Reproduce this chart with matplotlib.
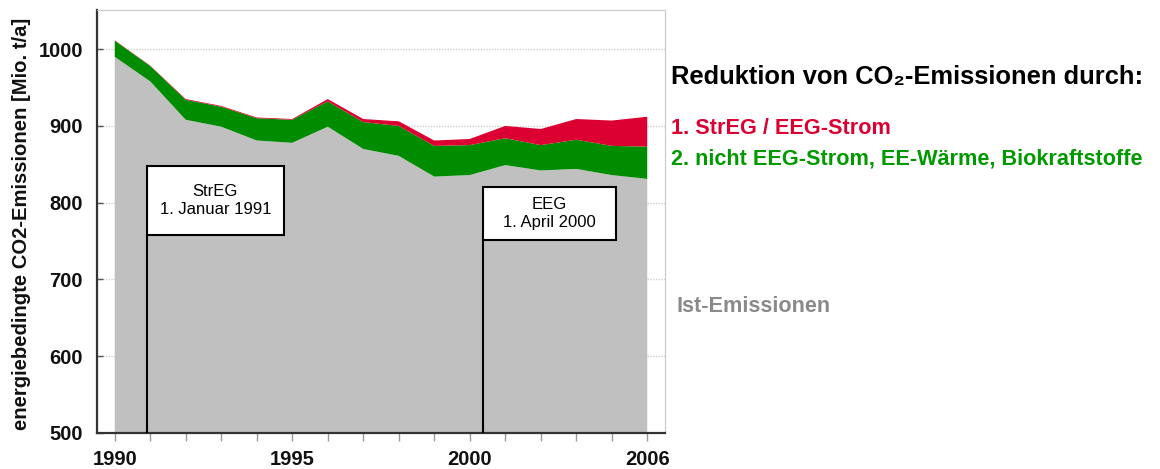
import numpy as np
import matplotlib
matplotlib.use("Agg")
import matplotlib.pyplot as plt
from matplotlib.patches import Rectangle

# ---- data ----
tick_labels = ["1990", "1995", "2000", "2006"]
tick_index = [0, 5, 10, 15]
ist_emissionen = [990, 958, 908, 899, 881, 878, 899, 870, 861, 834, 836, 849, 842, 844, 836, 831]
nicht_eeg = [21, 20, 26, 26, 29, 30, 33, 35, 39, 40, 39, 35, 33, 38, 38, 42]
streg_eeg = [0.5, 0.5, 1, 1, 1, 1, 3, 4, 6, 7, 8, 16, 21, 27, 33, 39]

title_text = "Reduktion von CO\u2082-Emissionen durch:"
legend_red = "1. StrEG / EEG-Strom"
legend_green = "2. nicht EEG-Strom, EE-Wärme, Biokraftstoffe"
legend_grey = "Ist-Emissionen"
ylabel = "energiebedingte CO2-Emissionen [Mio. t/a]"

FONT = ["Liberation Sans", "DejaVu Sans"]
plt.rcParams["font.family"] = FONT

GREY = "#c0c0c0"
GREEN = "#008c00"
RED = "#dc0032"

fig = plt.figure(figsize=(11.6, 4.69), dpi=100)
ax = fig.add_axes([97 / 1160, 36 / 469, (665 - 97) / 1160, (459 - 36) / 469])

x = np.arange(len(ist_emissionen))
ax.stackplot(x, ist_emissionen, nicht_eeg, streg_eeg,
             colors=[GREY, GREEN, RED], linewidth=0, zorder=2)

ax.set_xlim(-0.5, 15.5)
ax.set_ylim(500, 1051)

ax.set_yticks([500, 600, 700, 800, 900, 1000])
ax.set_yticklabels(["500", "600", "700", "800", "900", "1000"])
ax.yaxis.grid(True, color="#cfcfcf", linestyle=(0, (1, 1)), linewidth=1.0, zorder=0)
ax.set_axisbelow(True)

ax.set_xticks(x)
labels = [""] * len(x)
for i, t in zip(tick_index, tick_labels):
    labels[i] = t
ax.set_xticklabels(labels)

ax.tick_params(axis="x", direction="out", length=6, width=1, color="#9a9a9a",
               labelsize=14.5, pad=6)
ax.tick_params(axis="y", direction="in", length=4, width=1, color="#555555",
               labelsize=14.5, pad=10)
for lab in ax.get_xticklabels() + ax.get_yticklabels():
    lab.set_fontweight("bold")
    lab.set_color("#111111")

ax.spines["left"].set_color("#333333")
ax.spines["left"].set_linewidth(1.6)
ax.spines["bottom"].set_color("#333333")
ax.spines["bottom"].set_linewidth(1.6)
ax.spines["top"].set_color("#c8c8c8")
ax.spines["right"].set_color("#c8c8c8")

fig.text(22 / 1160, 1 - 224 / 469, ylabel, rotation=90, fontsize=14.6,
         fontweight="bold", color="#111111", ha="center", va="center")

# annotation boxes
def box(x0, x1, y0, y1, lines):
    ax.add_patch(Rectangle((x0, y0), x1 - x0, y1 - y0, facecolor="white",
                           edgecolor="black", linewidth=1.5, zorder=5))
    ax.plot([x0 + 0.02, x0 + 0.02], [500, y0], color="black", linewidth=1.5, zorder=5)
    ax.text((x0 + x1) / 2, (y0 + y1) / 2, lines, ha="center", va="center",
            fontsize=12, zorder=6, linespacing=1.3)

box(0.9, 4.77, 758, 848, "StrEG\n1. Januar 1991")
box(10.36, 14.12, 751, 821, "EEG\n1. April 2000")

fig.text(671 / 1160, 1 - 77 / 469, title_text, fontsize=18.4, fontweight="bold",
         color="black", va="center", ha="left")
fig.text(671 / 1160, 1 - 128 / 469, legend_red, fontsize=15.6, fontweight="bold",
         color=RED, va="center", ha="left")
fig.text(671 / 1160, 1 - 159 / 469, legend_green, fontsize=15.6, fontweight="bold",
         color="#009a00", va="center", ha="left")
fig.text(677 / 1160, 1 - 306 / 469, legend_grey, fontsize=15.6, fontweight="bold",
         color="#8a8a8a", va="center", ha="left")

fig.savefig("out.png", dpi=100)
